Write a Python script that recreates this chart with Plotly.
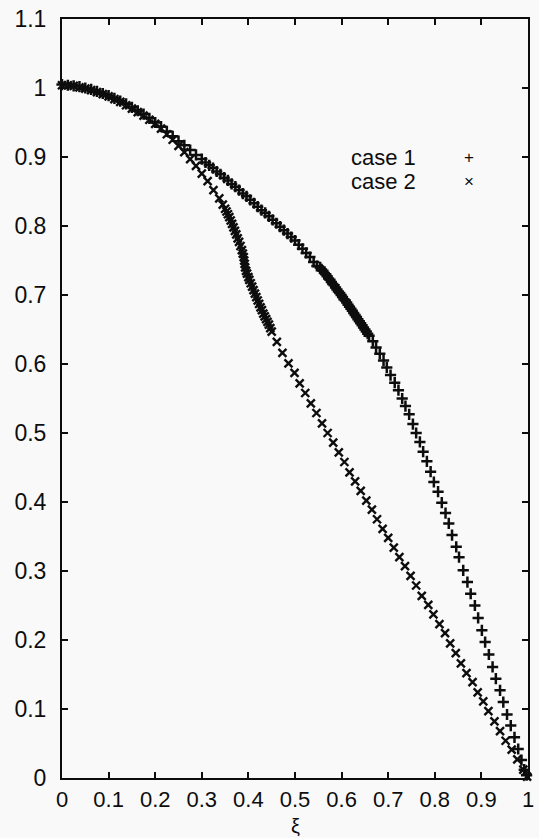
import plotly.graph_objects as go

# ---------------- data ----------------
case1_x = [0.0, 0.0125, 0.025, 0.0375, 0.05, 0.0625, 0.075, 0.0875, 0.1, 0.1125, 0.125, 0.1375,
           0.15, 0.1625, 0.175, 0.1875, 0.2, 0.2125, 0.225, 0.2375, 0.25, 0.2625, 0.275, 0.2875, 0.3,
           0.308, 0.316, 0.324, 0.332, 0.340, 0.348, 0.356, 0.364, 0.372, 0.380, 0.388, 0.396, 0.404,
           0.412, 0.420, 0.428, 0.436, 0.444, 0.452, 0.460, 0.468, 0.476, 0.484, 0.492, 0.500, 0.508,
           0.516, 0.524, 0.532, 0.540, 0.547,
           0.554, 0.557, 0.560, 0.563, 0.566, 0.569, 0.572, 0.575, 0.578, 0.581, 0.584, 0.587, 0.590,
           0.593, 0.596, 0.599, 0.602, 0.605, 0.608, 0.611, 0.614, 0.617, 0.620, 0.623, 0.626, 0.629,
           0.632, 0.635, 0.638, 0.641, 0.644, 0.647, 0.650, 0.653, 0.656, 0.659,
           0.667, 0.674, 0.682, 0.690, 0.697, 0.705, 0.714, 0.722, 0.730, 0.737, 0.745, 0.753, 0.760,
           0.768, 0.775, 0.783, 0.791, 0.798, 0.807, 0.815, 0.823, 0.830, 0.837, 0.846, 0.852, 0.861,
           0.870, 0.877, 0.886, 0.893, 0.901, 0.908, 0.916, 0.924, 0.931, 0.940, 0.947, 0.955, 0.963,
           0.971, 0.979, 0.986, 0.992, 0.997]
case1_y = [1.005, 1.004, 1.003, 1.002, 1.000, 0.998, 0.995, 0.992, 0.989, 0.985, 0.981, 0.977,
           0.972, 0.967, 0.962, 0.956, 0.950, 0.944, 0.937, 0.930, 0.923, 0.917, 0.910, 0.903, 0.897,
           0.892, 0.888, 0.884, 0.879, 0.875, 0.870, 0.866, 0.861, 0.857, 0.852, 0.847, 0.843, 0.838,
           0.833, 0.828, 0.823, 0.819, 0.814, 0.809, 0.804, 0.799, 0.794, 0.789, 0.784, 0.779, 0.773,
           0.767, 0.761, 0.755, 0.748, 0.742,
           0.740, 0.737, 0.735, 0.732, 0.730, 0.727, 0.724, 0.722, 0.719, 0.716, 0.714, 0.711, 0.708,
           0.705, 0.703, 0.700, 0.697, 0.694, 0.692, 0.689, 0.686, 0.683, 0.680, 0.677, 0.674, 0.671,
           0.668, 0.665, 0.662, 0.659, 0.656, 0.653, 0.650, 0.647, 0.644, 0.641,
           0.633, 0.624, 0.615, 0.605, 0.595, 0.584, 0.573, 0.562, 0.550, 0.539, 0.527, 0.513, 0.500,
           0.487, 0.473, 0.459, 0.444, 0.429, 0.415, 0.399, 0.384, 0.369, 0.352, 0.335, 0.320, 0.301,
           0.284, 0.267, 0.250, 0.232, 0.214, 0.197, 0.179, 0.161, 0.144, 0.127, 0.110, 0.092, 0.076,
           0.059, 0.042, 0.026, 0.012, 0.004]

case2_x = [0.0, 0.0125, 0.025, 0.0375, 0.05, 0.0625, 0.075, 0.0875, 0.1, 0.1125, 0.125, 0.1375,
           0.15, 0.1625, 0.175, 0.1875, 0.2, 0.2125, 0.225, 0.2375, 0.25, 0.2625, 0.275, 0.2875, 0.3,
           0.3125, 0.325, 0.3375, 0.345,
           0.350, 0.353, 0.356, 0.359, 0.362, 0.365, 0.368, 0.371, 0.374, 0.377, 0.380, 0.383, 0.386,
           0.388, 0.390, 0.391, 0.392, 0.393, 0.395, 0.397, 0.400, 0.402, 0.405, 0.408, 0.411, 0.414,
           0.417, 0.420, 0.423, 0.426, 0.429, 0.432, 0.435, 0.438, 0.441, 0.444, 0.447, 0.450,
           0.461, 0.473, 0.486, 0.499, 0.510, 0.522, 0.534, 0.546, 0.558, 0.570, 0.582, 0.594, 0.606,
           0.617, 0.629, 0.641, 0.653, 0.665, 0.676, 0.688, 0.700, 0.712, 0.724, 0.736, 0.748, 0.760,
           0.772, 0.786, 0.797, 0.810, 0.822, 0.833, 0.845, 0.856, 0.868, 0.881, 0.892, 0.904, 0.915,
           0.928, 0.940, 0.952, 0.965, 0.977, 0.990, 0.998]
case2_y = [1.004, 1.004, 1.003, 1.001, 0.999, 0.997, 0.994, 0.991, 0.988, 0.984, 0.980, 0.975,
           0.970, 0.965, 0.960, 0.954, 0.948, 0.941, 0.933, 0.925, 0.916, 0.907, 0.897, 0.887, 0.876,
           0.865, 0.852, 0.840, 0.831,
           0.825, 0.821, 0.817, 0.813, 0.808, 0.803, 0.798, 0.793, 0.788, 0.782, 0.777, 0.771, 0.765,
           0.760, 0.755, 0.750, 0.745, 0.740, 0.735, 0.731, 0.726, 0.722, 0.717, 0.712, 0.707, 0.702,
           0.697, 0.692, 0.687, 0.682, 0.678, 0.673, 0.669, 0.665, 0.661, 0.657, 0.652, 0.647,
           0.632, 0.616, 0.601, 0.587, 0.572, 0.558, 0.543, 0.529, 0.514, 0.500, 0.486, 0.472, 0.458,
           0.443, 0.430, 0.416, 0.402, 0.389, 0.375, 0.361, 0.348, 0.334, 0.320, 0.307, 0.293, 0.279,
           0.264, 0.251, 0.237, 0.223, 0.210, 0.195, 0.181, 0.166, 0.152, 0.139, 0.124, 0.111, 0.097,
           0.082, 0.068, 0.054, 0.041, 0.027, 0.012, 0.002]

x_ticks = [0, 0.1, 0.2, 0.3, 0.4, 0.5, 0.6, 0.7, 0.8, 0.9, 1]
x_tick_text = ["0", "0.1", "0.2", "0.3", "0.4", "0.5", "0.6", "0.7", "0.8", "0.9", "1"]
y_ticks = [0, 0.1, 0.2, 0.3, 0.4, 0.5, 0.6, 0.7, 0.8, 0.9, 1, 1.1]
y_tick_text = ["0", "0.1", "0.2", "0.3", "0.4", "0.5", "0.6", "0.7", "0.8", "0.9", "1", "1.1"]
x_title = "ξ"
series_names = ["case 1", "case 2"]

# ---------------- figure ----------------
FONT = "Liberation Sans"
INK = "#0d0d0d"
BG = "#f9f9f9"
TICK_SIZE = 22

fig = go.Figure()
fig.add_trace(go.Scatter(
    x=case1_x, y=case1_y, mode="markers", name=series_names[0], cliponaxis=False,
    marker=dict(symbol="cross-thin", size=8, color=INK, line=dict(color=INK, width=2.5)),
))
fig.add_trace(go.Scatter(
    x=case2_x, y=case2_y, mode="markers", name=series_names[1], cliponaxis=False,
    marker=dict(symbol="x-thin", size=8, color=INK, line=dict(color=INK, width=2.4)),
))

fig.update_layout(
    width=539, height=838,
    margin=dict(l=62, r=11, t=19, b=60, autoexpand=False),
    paper_bgcolor=BG, plot_bgcolor=BG,
    showlegend=False,
    font=dict(family=FONT, size=TICK_SIZE, color=INK),
)
fig.update_xaxes(
    range=[0, 1], tickmode="array", tickvals=x_ticks, ticktext=x_tick_text,
    showline=True, linecolor=INK, linewidth=2, mirror="allticks",
    ticks="inside", ticklen=6, tickwidth=1.8, tickcolor=INK,
    showgrid=False, zeroline=False, automargin=False,
    tickfont=dict(family=FONT, size=TICK_SIZE, color=INK),
    ticklabelstandoff=1,
)
fig.update_yaxes(
    range=[0, 1.1], tickmode="array", tickvals=y_ticks, ticktext=y_tick_text,
    showline=True, linecolor=INK, linewidth=2, mirror="allticks",
    ticks="inside", ticklen=6, tickwidth=1.8, tickcolor=INK,
    showgrid=False, zeroline=False, automargin=False,
    tickfont=dict(family=FONT, size=23, color=INK),
    ticklabelstandoff=9,
)

# x-axis title placed below the tick labels
fig.add_annotation(x=0.5, y=-0.0635, xref="paper", yref="paper", text=x_title,
                   showarrow=False, xanchor="center", yanchor="middle",
                   font=dict(family=FONT, size=20, color=INK))

# legend built as gnuplot does: right-aligned text followed by the sample symbol
legend_y = [0.899, 0.864]
for name, ly, sym in zip(series_names, legend_y, ["+", "×"]):
    fig.add_annotation(x=0.764, y=ly, xref="x", yref="y", text=name, showarrow=False,
                       xanchor="right", yanchor="middle",
                       font=dict(family=FONT, size=22, color=INK))
    fig.add_annotation(x=0.873, y=ly, xref="x", yref="y", text=sym, showarrow=False,
                       xanchor="center", yanchor="middle",
                       font=dict(family=FONT, size=17, color=INK))

fig.write_html("out.html")
